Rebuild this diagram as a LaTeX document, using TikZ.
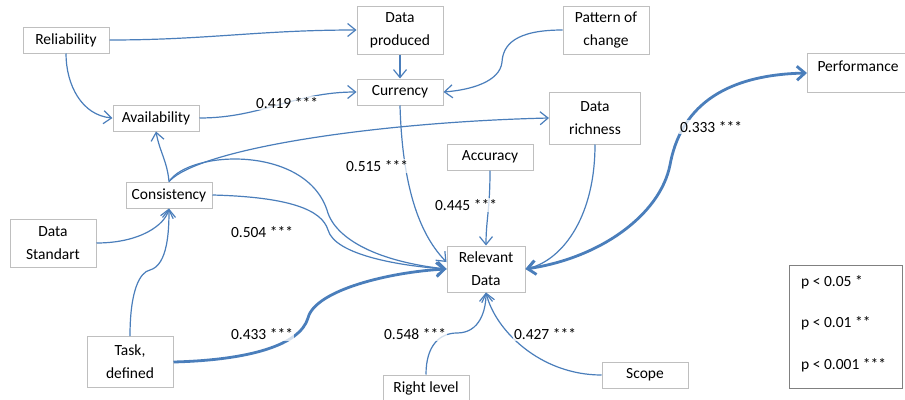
\documentclass[tikz,border=0pt]{standalone}
\usepackage{fontspec}
\setmainfont{Carlito}
\usetikzlibrary{arrows.meta}
\definecolor{lineblue}{HTML}{4A7EBB}
\definecolor{boxgray}{HTML}{BFBFBF}
\definecolor{leggray}{HTML}{808080}
\begin{document}
\begin{tikzpicture}[x=1pt,y=-1pt,
  box/.style={draw=boxgray,line width=1pt,fill=white,minimum width=86pt,minimum height=26pt,inner sep=0pt,align=center,font=\fontsize{15.5}{23}\selectfont},
  tallbox/.style={box,minimum height=48pt},
  tip/.style={},
  link/.style={draw=lineblue,line width=1.2pt,-{Straight Barb[length=8pt,width=13pt]}},
  thicklink/.style={draw=lineblue,line width=2.8pt,{Straight Barb[length=8pt,width=14pt]}-{Straight Barb[length=8pt,width=14pt]}},
  thickone/.style={draw=lineblue,line width=2.8pt,-{Straight Barb[length=8pt,width=14pt]}},
  lab/.style={font=\fontsize{15.5}{18}\selectfont,inner sep=1pt,fill=white,fill opacity=0.75,text opacity=1}
]
\useasboundingbox[fill=white] (0,0) rectangle (905,399);

% nodes
\node[box] (rel) at (66,40) {Reliability};
\node[tallbox] (dp) at (400,30) {Data\\produced};
\node[tallbox] (pc) at (606,30) {Pattern of\\change};
\node[box] (cur) at (400,92) {Currency};
\node[box] (av) at (156,118) {Availability};
\node[box,minimum width=91pt,minimum height=52pt] (dr) at (595,118) {Data\\richness};
\node[box,minimum width=104pt,minimum height=39pt,anchor=north west] (perf) at (807,53) {};
\node[font=\fontsize{15.5}{18}\selectfont,inner sep=0pt] (perft) at (858,66) {Performance};
\node[box] (acc) at (490,157) {Accuracy};
\node[box] (cons) at (169,195) {Consistency};
\node[tallbox] (ds) at (53,243) {Data\\Standart};
\node[box,minimum width=78pt,minimum height=46pt] (rd) at (486,269) {Relevant\\Data};
\node[box,minimum height=51pt] (td) at (130,362) {Task,\\defined};
\node[box] (rl) at (426,388) {Right level};
\node[box] (sc) at (645,375) {Scope};

% legend
\node[draw=leggray,line width=1pt,minimum width=113pt,minimum height=123pt,anchor=north west,inner sep=0pt] (leg) at (789,265) {};
\node[font=\fontsize{15.5}{18}\selectfont,anchor=west,inner sep=0pt] (l1) at (801,282) {p < 0.05 *};
\node[font=\fontsize{15.5}{18}\selectfont,anchor=west,inner sep=0pt] (l2) at (801,323) {p < 0.01 **};
\node[font=\fontsize{15.5}{18}\selectfont,anchor=west,inner sep=0pt] (l3) at (801,365) {p < 0.001 ***};

% connectors
\draw[link] (rel.east) to[out=0,in=180] (dp.west);
\draw[link] (rel.south) to[out=-90,in=175] (av.west);
\draw[link] (dp.south) -- (cur.north);
\draw[link] (pc.west) .. controls (515,30) and (503,45) .. (502,62) .. controls (500,82) and (470,90) .. (cur.east);
\draw[link] (av.east) to[out=0,in=180] (cur.west);
\draw[link] (cons.north) to[out=95,in=-80] (av.south);
\draw[link] (cons.north) .. controls (200,148) and (380,122) .. (dr.west);
\draw[link] (cons.north) .. controls (190,150) and (305,145) .. (327,210) .. controls (335,240) and (380,262) .. (rd.west);
\draw[link] (cons.east) .. controls (290,197) and (322,210) .. (328,230) .. controls (335,255) and (400,266) .. (rd.west);
\draw[link] (cur.south) .. controls (402,175) and (415,230) .. (rd.170);
\draw[link] (acc.south) .. controls (490,210) and (486,220) .. (rd.north);
\draw[link] (dr.south) .. controls (595,220) and (560,262) .. (rd.east);
\draw[thicklink] (rd.east) .. controls (600,258) and (660,215) .. (670,165) .. controls (680,110) and (720,75) .. (perf.west);
\draw[link] (ds.east) .. controls (140,243) and (165,225) .. (cons.south);
\draw[link] (td.north) .. controls (130,290) and (140,272) .. (150,270) .. controls (168,265) and (169,230) .. (cons.south);
\draw[thickone] (td.east) .. controls (250,360) and (300,345) .. (308,318) .. controls (315,290) and (390,272) .. (rd.west);
\draw[link] (rl.north) .. controls (426,345) and (440,333) .. (457,333) .. controls (480,333) and (486,310) .. (rd.south);
\draw[link] (sc.west) .. controls (540,375) and (495,330) .. (rd.south);

% labels
\node[lab] (c1) at (287,103) {0.419 ***};
\node[lab] (c2) at (377,166) {0.515 ***};
\node[lab] (c3) at (262,232) {0.504 ***};
\node[lab] (c4) at (466,205) {0.445 ***};
\node[lab] (c5) at (262,334) {0.433 ***};
\node[lab] (c6) at (415,334) {0.548 ***};
\node[lab] (c7) at (545,334) {0.427 ***};
\node[lab] (c8) at (711,127) {0.333 ***};
\end{tikzpicture}
\end{document}
